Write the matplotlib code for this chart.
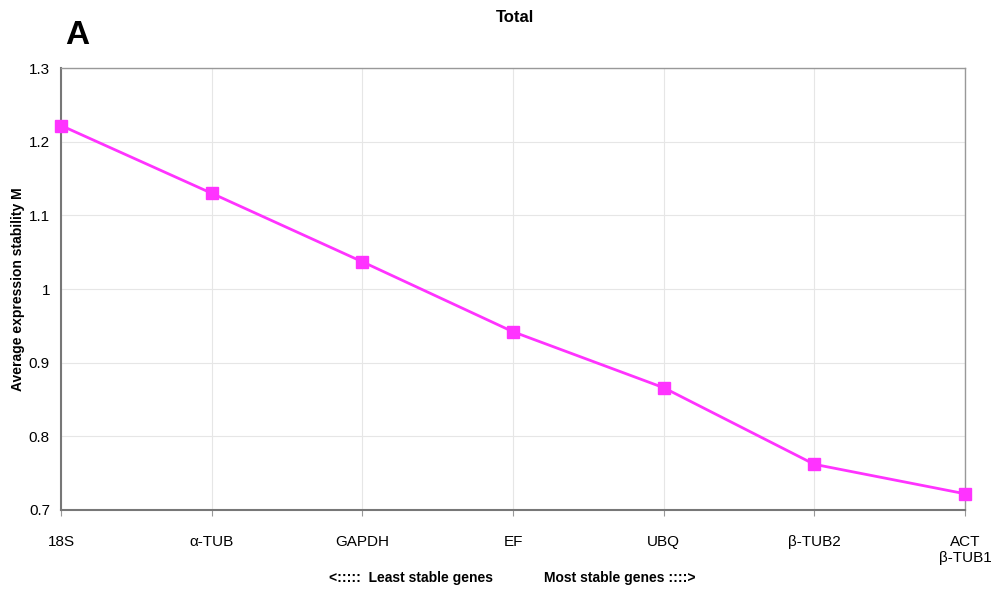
import matplotlib
matplotlib.use("Agg")
import matplotlib.pyplot as plt

genes = ["18S", "α-TUB", "GAPDH", "EF", "UBQ", "β-TUB2", "ACT\nβ-TUB1"]
m_values = [1.222, 1.130, 1.037, 0.942, 0.866, 0.762, 0.722]
y_ticks = [0.7, 0.8, 0.9, 1.0, 1.1, 1.2, 1.3]
y_tick_labels = ["0.7", "0.8", "0.9", "1", "1.1", "1.2", "1.3"]

plt.rcParams['font.family'] = ['Liberation Sans', 'DejaVu Sans']

fig = plt.figure(figsize=(10, 5.98), dpi=100)
ax = fig.add_axes([0.061, 0.1472, 0.904, 0.739])

x = list(range(len(genes)))
ax.plot(x, m_values, color='#ff33ff', linewidth=2, marker='s',
        markersize=8, clip_on=False, zorder=3)

ax.set_xlim(0, len(genes) - 1)
ax.set_ylim(0.7, 1.3)
ax.set_xticks(x)
ax.set_xticklabels(genes, fontsize=11)
ax.set_yticks(y_ticks)
ax.set_yticklabels(y_tick_labels, fontsize=11)
ax.tick_params(axis='y', length=0, pad=8)
ax.tick_params(axis='x', length=4, color='#999999', pad=14)

ax.grid(True, color='#e6e6e6', linewidth=0.8)
ax.set_axisbelow(True)
for side in ['top', 'right']:
    ax.spines[side].set_color('#999999')
    ax.spines[side].set_linewidth(1)
for side in ['left', 'bottom']:
    ax.spines[side].set_color('#777777')
    ax.spines[side].set_linewidth(1.5)

ax.set_ylabel("Average expression stability M", fontsize=10, fontweight='bold')
ax.yaxis.set_label_coords(-0.04, 0.5)

fig.text(0.515, 0.971, "Total", ha='center', va='center', fontsize=12,
         fontweight='bold')
fig.text(0.065, 0.94, "A", ha='left', va='center', fontsize=24,
         fontweight='bold')
fig.text(0.411, 0.033, "<:::::  Least stable genes", ha='center', va='center',
         fontsize=10, fontweight='bold')
fig.text(0.62, 0.033, "Most stable genes ::::>", ha='center', va='center',
         fontsize=10, fontweight='bold')

fig.savefig("out.png", dpi=100)
